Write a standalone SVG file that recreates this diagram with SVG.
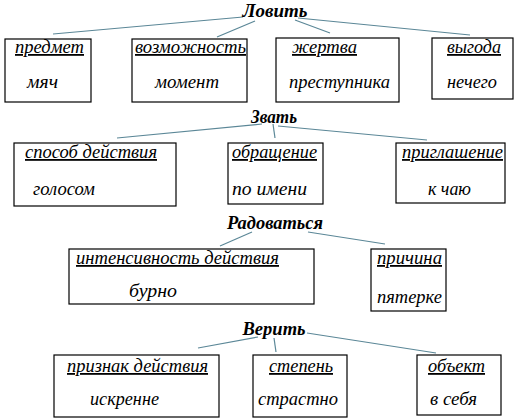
<svg xmlns="http://www.w3.org/2000/svg" width="524" height="420" viewBox="0 0 524 420">
<style>
.bg{fill:#fff}
.box{fill:#fff;stroke:#000;stroke-width:1.2}
.h{text-decoration:underline}
.title{text-anchor:middle}
.c line{stroke:#5b8797;stroke-width:1.2}
</style>
<rect class="bg" x="0" y="0" width="524" height="420"/>
<g class="c" id="connectors">
<line x1="53" y1="34" x2="243" y2="17"/>
<line x1="217" y1="37" x2="255" y2="21"/>
<line x1="295" y1="20" x2="330" y2="33"/>
<line x1="298" y1="18" x2="470" y2="35"/>
<line x1="117" y1="138" x2="262" y2="124"/>
<line x1="273" y1="124" x2="275" y2="138"/>
<line x1="278" y1="126" x2="427" y2="140"/>
<line x1="220" y1="246" x2="252" y2="232"/>
<line x1="308" y1="232" x2="385" y2="244"/>
<line x1="198" y1="348" x2="258" y2="337"/>
<line x1="274" y1="338" x2="276" y2="352"/>
<line x1="307" y1="333" x2="436" y2="353"/>
</g>
<g font-family="Liberation Serif, Times New Roman, serif" font-style="italic" font-weight="bold" font-size="18" fill="#000">
<g id="lovit"><text class="title" x="275" y="17" textLength="65" lengthAdjust="spacingAndGlyphs">Ловить</text></g>
<g id="zvat"><text class="title" x="274" y="123" textLength="46" lengthAdjust="spacingAndGlyphs">Звать</text></g>
<g id="radovatsya"><text class="title" x="275" y="229" textLength="96" lengthAdjust="spacingAndGlyphs">Радоваться</text></g>
<g id="verit"><text class="title" x="274" y="335" textLength="63" lengthAdjust="spacingAndGlyphs">Верить</text></g>
</g>
<g font-family="Liberation Serif, Times New Roman, serif" font-style="italic" font-size="18" fill="#000">
<g id="predmet"><rect class="box" x="5" y="39" width="86" height="63"/>
<text class="h" x="15" y="53" textLength="69" lengthAdjust="spacingAndGlyphs">предмет</text>
<text x="27" y="88" textLength="31" lengthAdjust="spacingAndGlyphs">мяч</text></g>
<g id="vozmozhnost"><rect class="box" x="132" y="39" width="115" height="63"/>
<text class="h" x="135" y="53" textLength="111" lengthAdjust="spacingAndGlyphs">возможность</text>
<text x="155" y="88" textLength="64" lengthAdjust="spacingAndGlyphs">момент</text></g>
<g id="zhertva"><rect class="box" x="276" y="38" width="123" height="64"/>
<text class="h" x="292" y="53" textLength="65" lengthAdjust="spacingAndGlyphs">жертва</text>
<text x="289" y="88" textLength="101" lengthAdjust="spacingAndGlyphs">преступника</text></g>
<g id="vygoda"><rect class="box" x="432" y="38" width="81" height="61"/>
<text class="h" x="447" y="53" textLength="54" lengthAdjust="spacingAndGlyphs">выгода</text>
<text x="447" y="88" textLength="50" lengthAdjust="spacingAndGlyphs">нечего</text></g>

<g id="sposob"><rect class="box" x="14" y="143" width="162" height="63"/>
<text class="h" x="25" y="158" textLength="132" lengthAdjust="spacingAndGlyphs">способ действия</text>
<text x="33" y="195" textLength="62" lengthAdjust="spacingAndGlyphs">голосом</text></g>
<g id="obrashchenie"><rect class="box" x="228" y="143" width="95" height="61"/>
<text class="h" x="232" y="158" textLength="85" lengthAdjust="spacingAndGlyphs">обращение</text>
<text x="232" y="195" textLength="75" lengthAdjust="spacingAndGlyphs">по имени</text></g>
<g id="priglashenie"><rect class="box" x="396" y="143" width="109" height="60"/>
<text class="h" x="402" y="158" textLength="101" lengthAdjust="spacingAndGlyphs">приглашение</text>
<text x="428" y="195" textLength="43" lengthAdjust="spacingAndGlyphs">к чаю</text></g>

<g id="intensivnost"><rect class="box" x="69" y="249" width="245" height="55"/>
<text class="h" x="76" y="264" textLength="203" lengthAdjust="spacingAndGlyphs">интенсивность действия</text>
<text x="129" y="297" textLength="48" lengthAdjust="spacingAndGlyphs">бурно</text></g>
<g id="prichina"><rect class="box" x="371" y="249" width="75" height="62"/>
<text class="h" x="377" y="264" textLength="65" lengthAdjust="spacingAndGlyphs">причина</text>
<text x="377" y="303" textLength="65" lengthAdjust="spacingAndGlyphs">пятерке</text></g>

<g id="priznak"><rect class="box" x="54" y="355" width="165" height="62"/>
<text class="h" x="67" y="372" textLength="141" lengthAdjust="spacingAndGlyphs">признак действия</text>
<text x="90" y="405" textLength="69" lengthAdjust="spacingAndGlyphs">искренне</text></g>
<g id="stepen"><rect class="box" x="253" y="355" width="94" height="62"/>
<text class="h" x="269" y="372" textLength="64" lengthAdjust="spacingAndGlyphs">степень</text>
<text x="258" y="405" textLength="80" lengthAdjust="spacingAndGlyphs">страстно</text></g>
<g id="obekt"><rect class="box" x="417" y="355" width="84" height="60"/>
<text class="h" x="428" y="372" textLength="57" lengthAdjust="spacingAndGlyphs">объект</text>
<text x="430" y="405" textLength="47" lengthAdjust="spacingAndGlyphs">в себя</text></g>
</g>
</svg>
